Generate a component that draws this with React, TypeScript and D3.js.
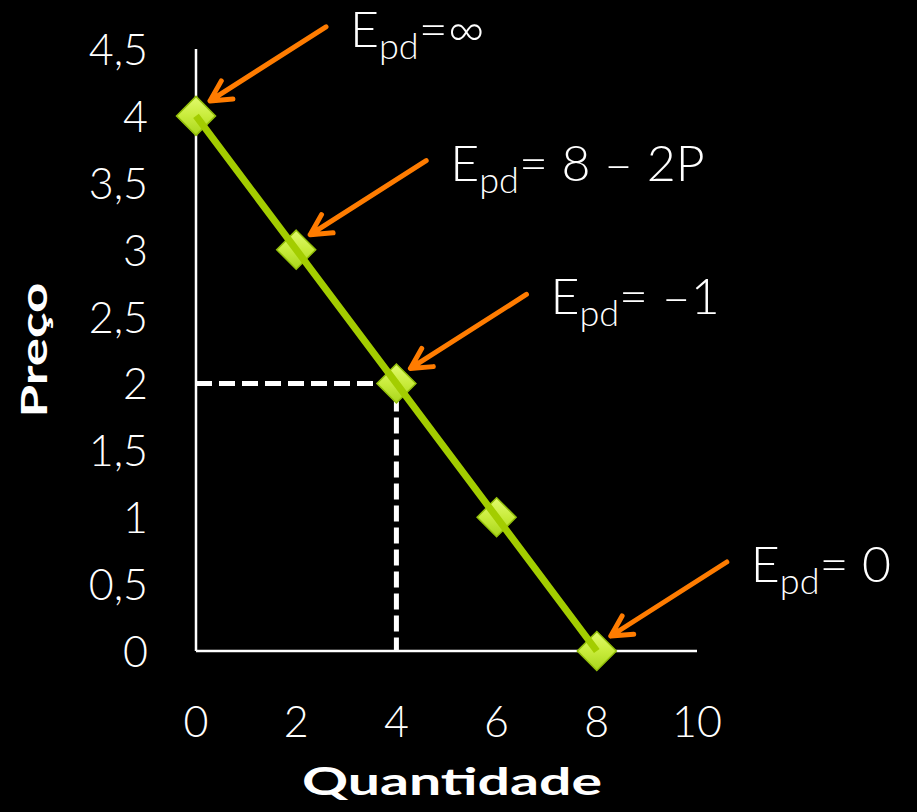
import React from "react";
import * as d3 from "d3";

// Demand curve: P = 4 - Q/2
const quantities = [0, 2, 4, 6, 8];
const prices = [4, 3, 2, 1, 0];

const xTicks = [0, 2, 4, 6, 8, 10];
const yTicks = [0, 0.5, 1, 1.5, 2, 2.5, 3, 3.5, 4, 4.5];

// Elasticity annotations: which point each refers to, and the text after "Epd"
const annotationPoint = [0, 1, 2, 4];
const annotationText = ["=∞", "= 8 – 2P", "= –1", "= 0"];

// Reference point for the dashed guide lines
const guideQ = 4;
const guideP = 2;

const W = 917;
const H = 812;
const FONT = "Lato, 'Open Sans', 'DejaVu Sans', sans-serif";

export default function App() {
  const x = d3.scaleLinear().domain([0, 10]).range([196, 697]);
  const y = d3.scaleLinear().domain([0, 4.5]).range([651, 49]);

  const pts = quantities.map((q, i) => [x(q), y(prices[i])] as [number, number]);
  const line = d3.line<[number, number]>()(pts) || "";

  const fmt = (v: number) => String(v).replace(".", ",");

  const diamond = (cx: number, cy: number, r: number) =>
    `M${cx},${cy - r}L${cx + r},${cy}L${cx},${cy + r}L${cx - r},${cy}Z`;

  const arrow = (x1: number, y1: number, x2: number, y2: number) => {
    const ang = Math.atan2(y1 - y2, x1 - x2);
    const len = 23;
    const spread = (28 * Math.PI) / 180;
    const a1 = [x2 + len * Math.cos(ang - spread), y2 + len * Math.sin(ang - spread)];
    const a2 = [x2 + len * Math.cos(ang + spread), y2 + len * Math.sin(ang + spread)];
    return `M${x1},${y1}L${x2},${y2}M${a1[0]},${a1[1]}L${x2},${y2}L${a2[0]},${a2[1]}`;
  };

  return (
    <svg
      width={W}
      height={H}
      style={{ position: "absolute", left: 0, top: 0, display: "block" }}
      fontFamily={FONT}
    >
      <defs>
        <linearGradient id="mk" x1="0" y1="0" x2="0" y2="1">
          <stop offset="0%" stopColor="#e2fa6e" />
          <stop offset="50%" stopColor="#c9ec3c" />
          <stop offset="100%" stopColor="#a9d61c" />
        </linearGradient>
      </defs>
      <rect x={0} y={0} width={W} height={H} fill="#000" />

      {/* axes */}
      <line x1={x(0)} x2={x(0)} y1={y(4.5)} y2={y(0)} stroke="#fff" strokeWidth={2.5} />
      <line x1={x(0)} x2={x(10)} y1={y(0)} y2={y(0)} stroke="#fff" strokeWidth={2.5} />

      {/* dashed guides */}
      <line
        x1={x(0)}
        x2={x(guideQ)}
        y1={y(guideP)}
        y2={y(guideP)}
        stroke="#fff"
        strokeWidth={5}
        strokeDasharray="16 7"
      />
      <line
        x1={x(guideQ)}
        x2={x(guideQ)}
        y1={y(guideP) + 12}
        y2={y(0)}
        stroke="#fff"
        strokeWidth={5}
        strokeDasharray="16 6"
      />

      {/* y tick labels */}
      {yTicks.map((t) => (
        <text
          key={"y" + t}
          x={148}
          y={y(t) + 16}
          textAnchor="end"
          fontSize={43}
          fontWeight={300}
          fill="#fff"
        >
          {fmt(t)}
        </text>
      ))}

      {/* x tick labels */}
      {xTicks.map((t) => (
        <text
          key={"x" + t}
          x={x(t)}
          y={737}
          textAnchor="middle"
          fontSize={43}
          fontWeight={300}
          fill="#fff"
        >
          {fmt(t)}
        </text>
      ))}

      {/* axis titles */}
      <text
        x={452}
        y={795}
        textAnchor="middle"
        fontSize={38}
        fontWeight="bold"
        fill="#fff"
        textLength={300}
        lengthAdjust="spacingAndGlyphs"
      >
        Quantidade
      </text>
      <text
        transform="translate(47,350) rotate(-90)"
        textAnchor="middle"
        fontSize={36}
        fontWeight="bold"
        fill="#fff"
        textLength={135}
        lengthAdjust="spacingAndGlyphs"
      >
        Preço
      </text>

      {/* markers */}
      {pts.map(([px, py], i) => (
        <path
          key={"m" + i}
          d={diamond(px, py, 19.5)}
          fill="url(#mk)"
          stroke="#93bf0a"
          strokeWidth={1.5}
        />
      ))}

      {/* demand line */}
      <path d={line} fill="none" stroke="#a3cd00" strokeWidth={7} strokeLinecap="butt" />

      {/* annotations */}
      {annotationPoint.map((pi, k) => {
        const [px, py] = pts[pi];
        const lx = px + 154;
        const ly = py - 69;
        return (
          <g key={"a" + k}>
            <path
              d={arrow(lx - 24, ly - 20, px + 14, py - 15)}
              fill="none"
              stroke="#ff7c00"
              strokeWidth={5}
              strokeLinecap="round"
              strokeLinejoin="round"
            />
            <text x={lx} y={ly} fill="#fff" fontSize={50} fontWeight={300}>
              <tspan>E</tspan>
              <tspan dy={12} fontSize={36}>
                pd
              </tspan>
              <tspan dy={-12}>{annotationText[k]}</tspan>
            </text>
          </g>
        );
      })}
    </svg>
  );
}
